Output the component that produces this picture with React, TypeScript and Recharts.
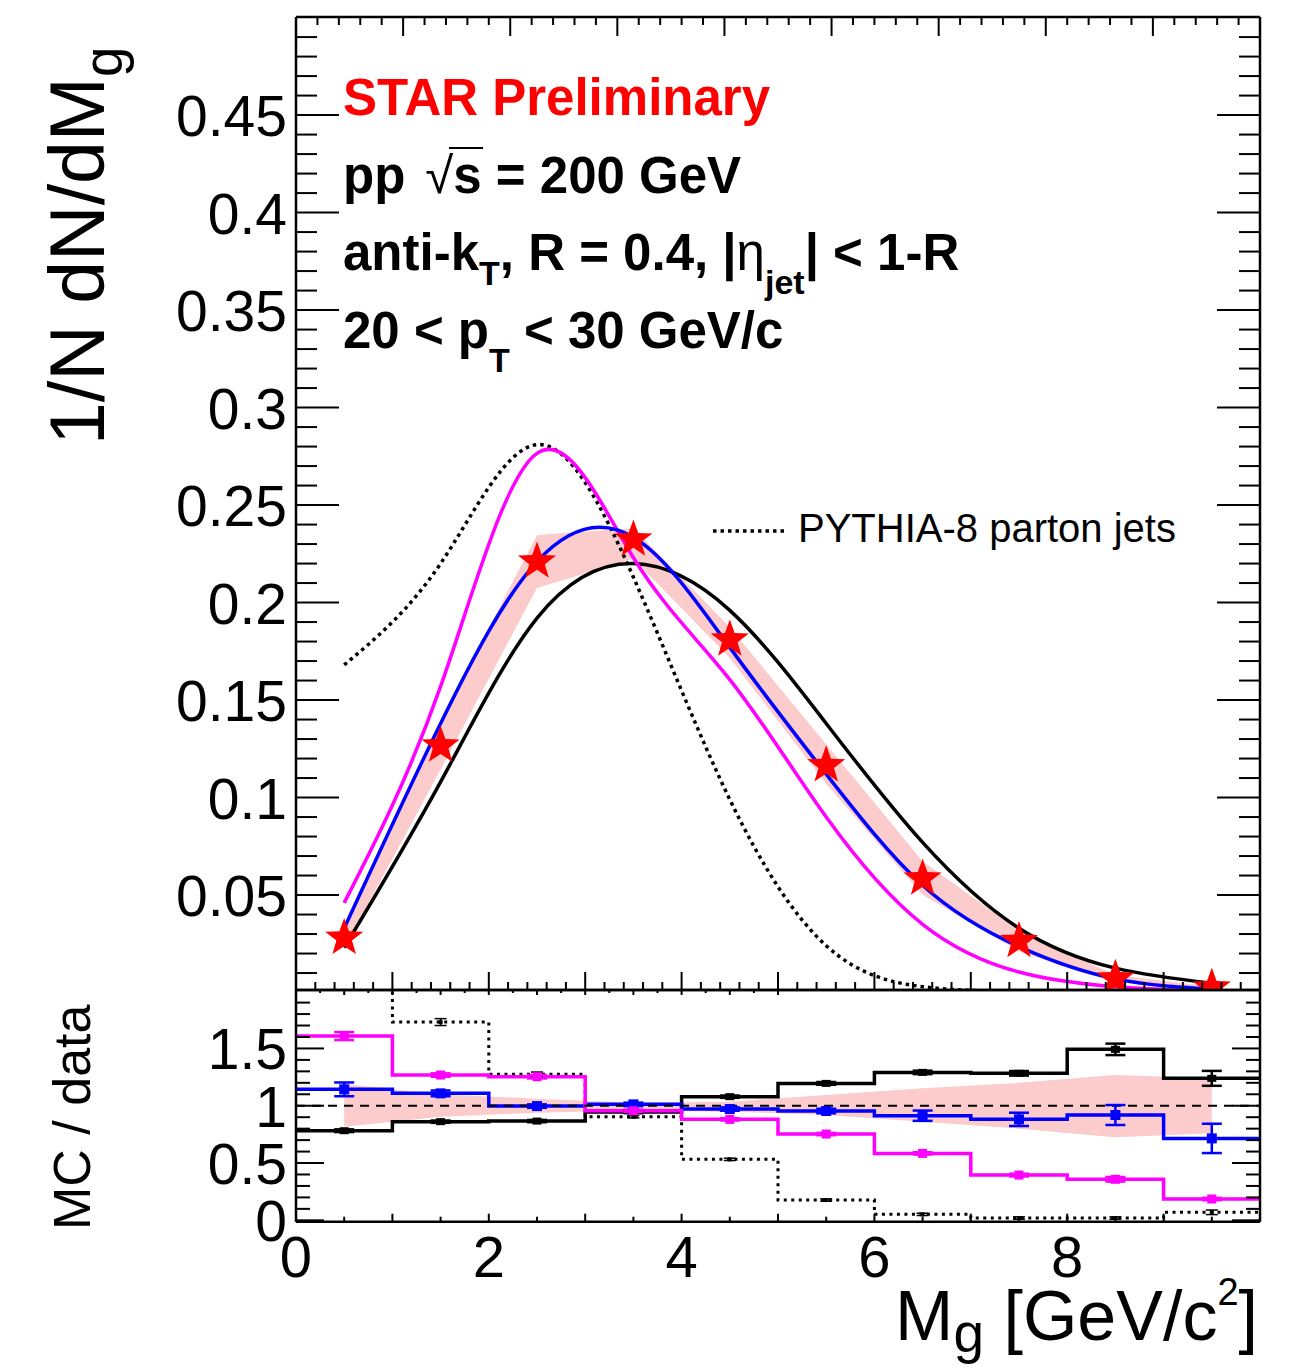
import React from 'react';
import {
  ComposedChart,
  Line,
  Area,
  Scatter,
  XAxis,
  YAxis,
  ErrorBar,
  ReferenceLine,
} from 'recharts';

const FONT = '"Liberation Sans", Arial, Helvetica, sans-serif';
const PINK = '#fccbcb';
const MAGENTA = '#ff00ff';
const BLUE = '#0000ff';

// M_g bins (GeV/c^2)
const binCenters = [0.5, 1.5, 2.5, 3.5, 4.5, 5.5, 6.5, 7.5, 8.5, 9.5];
const binEdges = [0, 1, 2, 3, 4, 5, 6, 7, 8, 9, 10];

// top panel: 1/N dN/dMg
const starData = [0.028, 0.1266, 0.221, 0.2323, 0.181, 0.1165, 0.0584, 0.0264, 0.0071, 0.0025];
const bandLow = [0.0229, 0.1144, 0.2075, 0.2225, 0.1716, 0.1071, 0.0502, 0.0211, 0.0051, 0.0019];
const bandHigh = [0.0333, 0.1391, 0.2347, 0.2381, 0.1873, 0.1273, 0.0673, 0.0317, 0.009, 0.0031];
const curveBlack = [0.023, 0.108, 0.192, 0.22, 0.196, 0.138, 0.077, 0.033, 0.0125, 0.0048];
const curveBlue = [0.033, 0.138, 0.221, 0.2335, 0.177, 0.112, 0.055, 0.0235, 0.007, 0.0018];
const curveMagenta = [0.046, 0.157, 0.2765, 0.223, 0.1605, 0.09, 0.035, 0.0105, 0.003, 0.0006];
const partonJets = [0.168, 0.22, 0.281, 0.213, 0.099, 0.024, 0.003, 0.0006, 0.0002, 0.0002];

// bottom panel: MC / data
const ratioBlack = [0.782, 0.861, 0.866, 0.945, 1.079, 1.195, 1.291, 1.283, 1.492, 1.239];
const ratioBlackErr = [0.012, 0.01, 0.01, 0.01, 0.01, 0.012, 0.015, 0.02, 0.05, 0.065];
const ratioBlue = [1.143, 1.108, 0.997, 1.012, 0.971, 0.954, 0.913, 0.881, 0.919, 0.715];
const ratioBlueErr = [0.06, 0.025, 0.015, 0.015, 0.015, 0.02, 0.045, 0.058, 0.087, 0.128];
const ratioMagenta = [1.608, 1.268, 1.253, 0.956, 0.881, 0.753, 0.584, 0.395, 0.358, 0.186];
const ratioMagentaErr = [0.035, 0.015, 0.015, 0.01, 0.01, 0.01, 0.01, 0.012, 0.02, 0.01];
const ratioParton = [6.0, 1.73, 1.274, 0.904, 0.532, 0.177, 0.052, 0.02, 0.02, 0.07];
const ratioPartonErr = [0.1, 0.03, 0.02, 0.01, 0.01, 0.01, 0.01, 0.01, 0.01, 0.02];
const ratioBandLow = [0.817, 0.904, 0.939, 0.958, 0.948, 0.919, 0.86, 0.8, 0.724, 0.759];
const ratioBandHigh = [1.189, 1.099, 1.062, 1.025, 1.035, 1.093, 1.152, 1.2, 1.268, 1.239];

// tick labels
const topYLabels = [0.05, 0.1, 0.15, 0.2, 0.25, 0.3, 0.35, 0.4, 0.45];
const ratioYLabels = [0, 0.5, 1, 1.5];
const xLabels = [0, 2, 4, 6, 8];

// tick positions (every minor division)
const topXTicks = Array.from({ length: 49 }, (_, i) => (i + 1) / 5);
const topYTicks = Array.from({ length: 49 }, (_, i) => (i + 1) / 100);
const ratioXTicks = Array.from({ length: 21 }, (_, i) => i / 2);
const ratioYTicks = Array.from({ length: 20 }, (_, i) => i / 10);

const topRows = binCenters.map((x, i) => ({
  x,
  data: starData[i],
  band: [bandLow[i], bandHigh[i]],
  black: curveBlack[i],
  blue: curveBlue[i],
  magenta: curveMagenta[i],
  parton: partonJets[i],
}));

// step histograms sit on bin edges, the band on bin centres
const ratioRows: any[] = [
  ...binEdges.map((x, i) => {
    const k = Math.min(i, 9);
    return {
      x,
      black: ratioBlack[k],
      blue: ratioBlue[k],
      magenta: ratioMagenta[k],
      parton: ratioParton[k],
    };
  }),
  ...binCenters.map((x, i) => ({ x, band: [ratioBandLow[i], ratioBandHigh[i]] })),
].sort((a, b) => a.x - b.x);

const markers = (vals: number[], errs: number[]) =>
  binCenters.map((x, i) => ({ x, y: vals[i], err: errs[i] }));

const near = (a: number, b: number) => Math.abs(a - b) < 1e-6;
const onStep = (v: number, step: number) => near(v / step, Math.round(v / step));
const fmt = (v: number) => String(+v.toFixed(2));

const yTick =
  (side: 'left' | 'right', step: number, major: number, minor: number, labels: number[]) =>
  (p: any) => {
    const v = p.payload.value;
    const len = onStep(v, step) ? major : minor;
    const dir = side === 'left' ? 1 : -1;
    const showLabel = side === 'left' && labels.some((l) => near(l, v));
    return (
      <g>
        <line x1={p.x} y1={p.y} x2={p.x + dir * len} y2={p.y} stroke="#000" strokeWidth={2} />
        {showLabel && (
          <text x={p.x - 9} y={p.y + 21} textAnchor="end" fontFamily={FONT} fontSize={57} fill="#000">
            {fmt(v)}
          </text>
        )}
      </g>
    );
  };

const xTick =
  (side: 'top' | 'bottom', major: number, minor: number, labels: number[]) =>
  (p: any) => {
    const v = p.payload.value;
    const len = onStep(v, 1) ? major : minor;
    const dir = side === 'bottom' ? -1 : 1;
    const showLabel = side === 'bottom' && labels.some((l) => near(l, v));
    return (
      <g>
        <line x1={p.x} y1={p.y} x2={p.x} y2={p.y + dir * len} stroke="#000" strokeWidth={2} />
        {showLabel && (
          <text x={p.x} y={p.y + 55} textAnchor="middle" fontFamily={FONT} fontSize={58} fill="#000">
            {fmt(v)}
          </text>
        )}
      </g>
    );
  };

const Star = (p: any) => {
  const R = 20;
  const r = 8.2;
  const pts: string[] = [];
  for (let i = 0; i < 10; i++) {
    const rad = i % 2 === 0 ? R : r;
    const a = -Math.PI / 2 + (i * Math.PI) / 5;
    pts.push(`${p.cx + rad * Math.cos(a)},${p.cy + rad * Math.sin(a)}`);
  }
  return <polygon points={pts.join(' ')} fill="#ff0000" />;
};

const square = (color: string, w: number, h: number) => (p: any) =>
  <rect x={p.cx - w / 2} y={p.cy - h / 2} width={w} height={h} fill={color} />;

const frame = { stroke: '#000', strokeWidth: 2.5 };

const commonAxis = {
  tickLine: false,
  tickSize: 0,
  tickMargin: 0,
  interval: 0 as const,
  axisLine: frame,
};

const App = () => {
  return (
    <div style={{ position: 'absolute', left: 0, top: 0, width: 1305, height: 1369, background: '#fff' }}>
      {/* upper pad */}
      <div style={{ position: 'absolute', left: 0, top: 0, width: 1264, height: 1000, overflow: 'hidden' }}>
        <ComposedChart
          width={1305}
          height={1000}
          data={topRows}
          margin={{ top: 16, right: 44, bottom: 9, left: 0 }}
        >
          <XAxis
            xAxisId="b"
            dataKey="x"
            type="number"
            domain={[0, 10]}
            allowDataOverflow
            height={1}
            ticks={topXTicks}
            tick={xTick('bottom', 18, 8, [])}
            {...commonAxis}
          />
          <XAxis
            xAxisId="t"
            orientation="top"
            type="number"
            domain={[0, 10]}
            allowDataOverflow
            height={1}
            ticks={topXTicks}
            tick={xTick('top', 19, 8, [])}
            {...commonAxis}
          />
          <YAxis
            yAxisId="l"
            type="number"
            domain={[0.0013, 0.5003]}
            allowDataOverflow
            width={296}
            ticks={topYTicks}
            tick={yTick('left', 0.05, 43, 21, topYLabels)}
            {...commonAxis}
          />
          <YAxis
            yAxisId="r"
            orientation="right"
            type="number"
            domain={[0.0013, 0.5003]}
            allowDataOverflow
            width={1}
            ticks={topYTicks}
            tick={yTick('right', 0.05, 43, 21, [])}
            {...commonAxis}
          />
          <Area
            xAxisId="b"
            yAxisId="l"
            dataKey="band"
            type="linear"
            fill={PINK}
            fillOpacity={1}
            stroke="none"
            isAnimationActive={false}
          />
          <Line xAxisId="b" yAxisId="l" dataKey="black" type="natural" stroke="#000" strokeWidth={3.5} dot={false} isAnimationActive={false} />
          <Line xAxisId="b" yAxisId="l" dataKey="parton" type="natural" stroke="#000" strokeWidth={3.5} strokeDasharray="3.5 4" dot={false} isAnimationActive={false} />
          <Line xAxisId="b" yAxisId="l" dataKey="magenta" type="natural" stroke={MAGENTA} strokeWidth={3.5} dot={false} isAnimationActive={false} />
          <Line xAxisId="b" yAxisId="l" dataKey="blue" type="natural" stroke={BLUE} strokeWidth={3.5} dot={false} isAnimationActive={false} />
          <Scatter xAxisId="b" yAxisId="l" dataKey="data" shape={Star} isAnimationActive={false} />
        </ComposedChart>
      </div>

      {/* ratio pad */}
      <div style={{ position: 'absolute', left: 0, top: 960, width: 1305, height: 409, overflow: 'hidden' }}>
        <ComposedChart
          width={1305}
          height={409}
          data={ratioRows}
          margin={{ top: 29, right: 44, bottom: 146.3, left: 0 }}
        >
          <XAxis
            xAxisId="b"
            dataKey="x"
            type="number"
            domain={[0, 10]}
            allowDataOverflow
            height={1}
            ticks={ratioXTicks}
            tick={xTick('bottom', 8, 5, xLabels)}
            {...commonAxis}
          />
          <XAxis
            xAxisId="t"
            orientation="top"
            type="number"
            domain={[0, 10]}
            allowDataOverflow
            height={1}
            ticks={ratioXTicks}
            tick={xTick('top', 5, 3, [])}
            {...commonAxis}
          />
          <YAxis
            yAxisId="l"
            type="number"
            domain={[-0.012, 2.01]}
            allowDataOverflow
            width={296}
            ticks={ratioYTicks}
            tick={yTick('left', 0.5, 28, 14, ratioYLabels)}
            {...commonAxis}
          />
          <YAxis
            yAxisId="r"
            orientation="right"
            type="number"
            domain={[-0.012, 2.01]}
            allowDataOverflow
            width={1}
            ticks={ratioYTicks}
            tick={yTick('right', 0.5, 28, 14, [])}
            {...commonAxis}
          />
          <Area
            xAxisId="b"
            yAxisId="l"
            dataKey="band"
            type="linear"
            fill={PINK}
            fillOpacity={1}
            stroke="none"
            connectNulls
            isAnimationActive={false}
          />
          <Line xAxisId="b" yAxisId="l" dataKey="parton" type="stepAfter" stroke="#000" strokeWidth={3} strokeDasharray="3 4.5" dot={false} connectNulls isAnimationActive={false} />
          <Line xAxisId="b" yAxisId="l" dataKey="black" type="stepAfter" stroke="#000" strokeWidth={3.5} dot={false} connectNulls isAnimationActive={false} />
          <Line xAxisId="b" yAxisId="l" dataKey="blue" type="stepAfter" stroke={BLUE} strokeWidth={3.5} dot={false} connectNulls isAnimationActive={false} />
          <Line xAxisId="b" yAxisId="l" dataKey="magenta" type="stepAfter" stroke={MAGENTA} strokeWidth={3.5} dot={false} connectNulls isAnimationActive={false} />
          <ReferenceLine xAxisId="b" yAxisId="l" y={1} stroke="#000" strokeWidth={2} strokeDasharray="9 7" />
          <Scatter xAxisId="b" yAxisId="l" data={markers(ratioParton, ratioPartonErr)} dataKey="y" shape={square('#000', 4, 4)} isAnimationActive={false}>
            <ErrorBar dataKey="err" direction="y" width={6} stroke="#000" strokeWidth={1.5} isAnimationActive={false} />
          </Scatter>
          <Scatter xAxisId="b" yAxisId="l" data={markers(ratioBlack, ratioBlackErr)} dataKey="y" shape={square('#000', 9, 7)} isAnimationActive={false}>
            <ErrorBar dataKey="err" direction="y" width={10} stroke="#000" strokeWidth={2.5} isAnimationActive={false} />
          </Scatter>
          <Scatter xAxisId="b" yAxisId="l" data={markers(ratioBlue, ratioBlueErr)} dataKey="y" shape={square(BLUE, 10, 10)} isAnimationActive={false}>
            <ErrorBar dataKey="err" direction="y" width={10} stroke={BLUE} strokeWidth={2.5} isAnimationActive={false} />
          </Scatter>
          <Scatter xAxisId="b" yAxisId="l" data={markers(ratioMagenta, ratioMagentaErr)} dataKey="y" shape={square(MAGENTA, 9, 9)} isAnimationActive={false}>
            <ErrorBar dataKey="err" direction="y" width={10} stroke={MAGENTA} strokeWidth={2.5} isAnimationActive={false} />
          </Scatter>
        </ComposedChart>
      </div>

      {/* titles, labels and legend */}
      <svg
        width={1305}
        height={1369}
        style={{ position: 'absolute', left: 0, top: 0, pointerEvents: 'none' }}
        fontFamily={FONT}
      >
        <text x={343} y={115} fill="#ff0000" fontWeight="bold" fontSize={51}>
          STAR Preliminary
        </text>

        <text x={343} y={193} fontWeight="bold" fontSize={51}>
          pp<tspan fontWeight="normal" dx={20}>√</tspan>
          <tspan>s = 200 GeV</tspan>
        </text>
        <line x1={449} y1={148} x2={483} y2={148} stroke="#000" strokeWidth={2} />

        <text x={343} y={270} fontWeight="bold" fontSize={51}>
          anti-k<tspan fontSize={34} dy={15}>T</tspan>
          <tspan dy={-15}>, R = 0.4, |</tspan>
          <tspan fontWeight="normal">η</tspan>
          <tspan fontSize={34} dy={24}>jet</tspan>
          <tspan dy={-24}>| &lt; 1-R</tspan>
        </text>

        <text x={343} y={348} fontWeight="bold" fontSize={51}>
          20 &lt; p<tspan fontSize={34} dy={24}>T</tspan>
          <tspan dy={-24}> &lt; 30 GeV/c</tspan>
        </text>

        <line x1={713} y1={531} x2={784} y2={531} stroke="#000" strokeWidth={3.5} strokeDasharray="3.5 4" />
        <text x={798} y={542} fontSize={40}>PYTHIA-8 parton jets</text>

        <text transform="translate(104,445) rotate(-90)" fontSize={77}>
          1/N dN/dM<tspan fontSize={55} dy={18}>g</tspan>
        </text>

        <text transform="translate(90,1230) rotate(-90)" fontSize={52}>
          MC / data
        </text>

        <text x={1258} y={1340} textAnchor="end" fontSize={70}>
          M<tspan fontSize={55} dy={12}>g</tspan>
          <tspan dy={-12}> [GeV/c</tspan>
          <tspan fontSize={38} dy={-35}>2</tspan>
          <tspan dy={35}>]</tspan>
        </text>
      </svg>
    </div>
  );
};

export default App;
